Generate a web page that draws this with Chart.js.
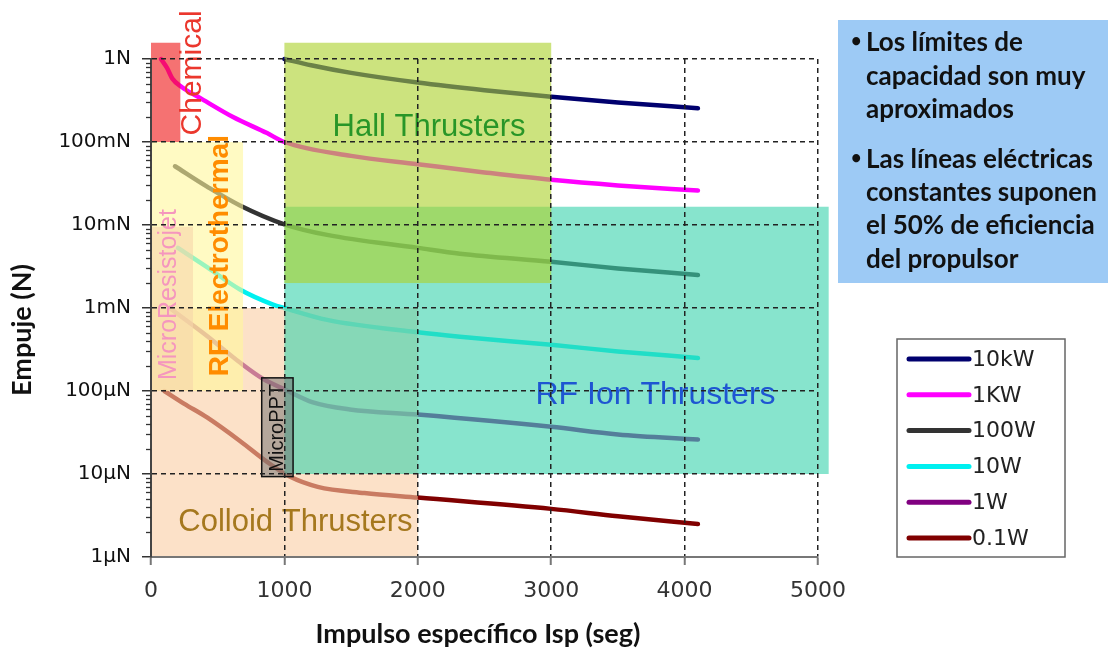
<!DOCTYPE html>
<html lang="es">
<head>
<meta charset="utf-8">
<title>Empuje vs Impulso específico</title>
<script src="https://cdn.jsdelivr.net/npm/chart.js@4.4.1/dist/chart.umd.min.js"></script>
<style>
  html, body { margin: 0; padding: 0; background: #fff; }
  #wrap { width: 1108px; height: 651px; }
</style>
</head>
<body>
<div id="wrap"><canvas id="grafik" width="1108" height="651"></canvas></div>
<script>
// Series de potencia constante (Isp en seg, empuje en N)
const seriesLabels = ['10kW', '1KW', '100W', '10W', '1W', '0.1W'];

const isp10kW    = [1000, 1200, 1500, 2000, 2500, 3000, 3500, 4100];
const empuje10kW = [1.0, 0.84, 0.68, 0.52, 0.42, 0.35, 0.30, 0.255];

const isp1kW    = [75, 120, 160, 230, 367, 615, 870, 1000, 1500, 2000, 2500, 3000, 3500, 4100];
const empuje1kW = [1.0, 0.78, 0.58, 0.46, 0.34, 0.20, 0.128, 0.10, 0.068, 0.054, 0.043, 0.035, 0.030, 0.026];

const isp100W    = [180, 420, 667, 1000, 1320, 2000, 2316, 3000, 3500, 4100];
const empuje100W = [0.051, 0.029, 0.0172, 0.0102, 0.0076, 0.0053, 0.0045, 0.0036, 0.0030, 0.0025];

const isp10W    = [202, 420, 667, 915, 1000, 1320, 2000, 2316, 3000, 3500, 4100];
const empuje10W = [0.0053, 0.0031, 0.00167, 0.0011, 0.001, 0.00072, 0.00051, 0.00045, 0.00036, 0.00030, 0.00025];

const isp1W    = [140, 420, 667, 840, 1000, 1214, 1490, 2000, 3000, 3500, 4100];
const empuje1W = [0.001, 0.00046, 0.00022, 0.00014, 0.000105, 0.000073, 0.00006, 0.000052, 0.000037, 0.00003, 0.000026];

const isp01W    = [100, 250, 420, 667, 870, 1040, 1250, 1600, 2000, 3000, 3500, 4100];
const empuje01W = [0.0001, 0.00007, 0.000048, 0.000025, 0.000014, 0.0000093, 0.000007, 0.0000059, 0.0000052, 0.0000038, 0.0000031, 0.0000025];

const xTickValues = [0, 1000, 2000, 3000, 4000, 5000];
const xTickLabels = ['0', '1000', '2000', '3000', '4000', '5000'];
const yTickValues = [1e-6, 1e-5, 1e-4, 1e-3, 1e-2, 1e-1, 1];
const yTickLabels = ['1µN', '10µN', '100µN', '1mN', '10mN', '100mN', '1N'];

// Zonas de cada tipo de propulsor (rango de Isp y de empuje)
const zonaNombres = ['Colloid Thrusters', 'RF Ion Thrusters', 'Hall Thrusters', 'RF Electrothermal', 'MicroResistojet', 'Chemical', 'MicroPPT'];
const zonaIsp     = [[0, 2000], [1000, 5080], [1000, 3000], [0, 690], [0, 315], [0, 220], [830, 1065]];
const zonaEmpuje  = [[1e-6, 1e-3], [1e-5, 0.0166], [0.002, 1.57], [1e-4, 0.1], [1e-4, 0.0095], [0.1, 1.57], [9.3e-6, 1.44e-4]];
// donde va el texto de cada zona
const zonaTextoIsp    = [1083, 3782, 2084, 517, 135, 315, 945];
const zonaTextoEmpuje = [2.6e-6, 8.8e-5, 0.151, 0.00427, 0.00145, 0.68, 3.6e-5];

const notas = [
    ['Los límites de', 'capacidad son muy', 'aproximados'],
    ['Las líneas eléctricas', 'constantes suponen', 'el 50% de eficiencia', 'del propulsor']
];

// Estilos
const colores = ['#00006e', '#ff00ff', '#333333', '#00f0f0', '#800080', '#800000'];
const zonaRelleno = ['rgb(250,205,163)', 'rgb(55,210,172)', 'rgb(172,210,47)', 'rgb(255,247,155)', 'rgb(247,213,170)', 'rgb(238,20,20)', 'rgb(110,110,110)'];
const zonaAlpha   = [0.6, 0.6, 0.62, 0.6, 0.6, 0.6, 0.5];
const zonaColorTexto = ['rgb(165,120,30)', 'rgb(30,85,210)', 'rgb(40,150,40)', 'rgb(255,140,0)', 'rgb(245,150,190)', 'rgb(235,55,45)', '#111'];
const zonaFuente  = ['31px "Liberation Sans"', '32px "Liberation Sans"', '31px "Liberation Sans"', 'bold 28px "Liberation Sans"', '25px "Liberation Sans"', '30px "Liberation Sans"', '20px "Liberation Sans"'];
const zonaVertical = [false, false, false, true, true, true, true];

function puntos(xs, ys) {
    return xs.map((v, i) => ({ x: v, y: ys[i] }));
}

const datos = [
    puntos(isp10kW, empuje10kW),
    puntos(isp1kW, empuje1kW),
    puntos(isp100W, empuje100W),
    puntos(isp10W, empuje10W),
    puntos(isp1W, empuje1W),
    puntos(isp01W, empuje01W)
];

// Cajas de zonas y textos (encima de las lineas, con transparencia)
const zonasPlugin = {
    id: 'zonas',
    afterDatasetsDraw(chart) {
        const { ctx, scales: { x, y } } = chart;
        ctx.save();
        zonaNombres.forEach((nombre, i) => {
            const x1 = x.getPixelForValue(zonaIsp[i][0]);
            const x2 = x.getPixelForValue(zonaIsp[i][1]);
            const y1 = y.getPixelForValue(zonaEmpuje[i][1]);
            const y2 = y.getPixelForValue(zonaEmpuje[i][0]);
            ctx.globalAlpha = zonaAlpha[i];
            ctx.fillStyle = zonaRelleno[i];
            ctx.fillRect(x1, y1, x2 - x1, y2 - y1);
            if (nombre === 'MicroPPT') {
                ctx.globalAlpha = 1;
                ctx.strokeStyle = '#111';
                ctx.lineWidth = 1.5;
                ctx.strokeRect(x1, y1, x2 - x1, y2 - y1);
            }
        });
        ctx.globalAlpha = 1;
        ctx.textAlign = 'center';
        ctx.textBaseline = 'middle';
        zonaNombres.forEach((nombre, i) => {
            const px = x.getPixelForValue(zonaTextoIsp[i]);
            const py = y.getPixelForValue(zonaTextoEmpuje[i]);
            ctx.save();
            ctx.translate(px, py);
            if (zonaVertical[i]) ctx.rotate(-Math.PI / 2);
            ctx.font = zonaFuente[i];
            ctx.fillStyle = zonaColorTexto[i];
            ctx.fillText(nombre, 0, 0);
            ctx.restore();
        });
        ctx.restore();
    }
};

// Marcas menores del eje log, titulos, leyenda y recuadro de notas
const extrasPlugin = {
    id: 'extras',
    afterDraw(chart) {
        const { ctx, chartArea, scales: { y } } = chart;
        ctx.save();

        // marcas menores
        ctx.strokeStyle = '#333';
        ctx.lineWidth = 1.3;
        for (let d = 0; d < yTickValues.length - 1; d++) {
            for (let k = 2; k <= 9; k++) {
                const py = Math.round(y.getPixelForValue(yTickValues[d] * k)) + 0.5;
                ctx.beginPath();
                ctx.moveTo(chartArea.left - 5, py);
                ctx.lineTo(chartArea.left, py);
                ctx.stroke();
            }
        }

        // titulos de ejes
        ctx.fillStyle = '#111';
        ctx.font = 'bold 27px Lato';
        ctx.textAlign = 'center';
        ctx.textBaseline = 'middle';
        ctx.fillText('Impulso específico Isp (seg)', 478, 634);
        ctx.save();
        ctx.translate(22, 330);
        ctx.rotate(-Math.PI / 2);
        ctx.fillText('Empuje (N)', 0, 0);
        ctx.restore();

        // leyenda
        ctx.fillStyle = '#fff';
        ctx.fillRect(897, 339, 168, 218);
        ctx.strokeStyle = '#666';
        ctx.lineWidth = 1.5;
        ctx.strokeRect(897, 339, 168, 218);
        ctx.font = '22px "DejaVu Sans"';
        ctx.textAlign = 'left';
        chart.data.datasets.forEach((ds, i) => {
            const ly = 359 + i * 35.8;
            ctx.strokeStyle = ds.borderColor;
            ctx.lineWidth = 5;
            ctx.lineCap = 'round';
            ctx.beginPath();
            ctx.moveTo(909, ly);
            ctx.lineTo(969, ly);
            ctx.stroke();
            ctx.fillStyle = '#222';
            ctx.fillText(ds.label, 972, ly + 1);
        });

        // recuadro de notas
        ctx.fillStyle = '#9dcaf5';
        ctx.fillRect(838, 20, 270, 263);
        ctx.fillStyle = '#111';
        ctx.font = 'bold 26px Lato';
        const filas = [[43, 77, 110], [160, 193, 226, 260]];
        notas.forEach((grupo, g) => {
            grupo.forEach((linea, j) => {
                const ty = filas[g][j];
                if (j === 0) {
                    ctx.font = 'bold 18px Lato';
                    ctx.fillText('•', 851, ty - 2);
                    ctx.font = 'bold 26px Lato';
                }
                ctx.fillText(linea, 866, ty);
            });
        });
        ctx.restore();
    }
};

const ctx = document.getElementById('grafik').getContext('2d');
const chartInstance = new Chart(ctx, {
    type: 'line',
    data: {
        datasets: datos.map((d, i) => ({
            label: seriesLabels[i],
            data: d,
            borderColor: colores[i],
            backgroundColor: colores[i],
            borderWidth: 4.5,
            borderCapStyle: 'round',
            pointRadius: 0,
            cubicInterpolationMode: 'monotone',
            clip: false
        }))
    },
    options: {
        responsive: false,
        animation: false,
        devicePixelRatio: 1,
        layout: { padding: { left: 0, right: 290, top: 59, bottom: 0 } },
        plugins: {
            legend: { display: false },
            tooltip: { enabled: false }
        },
        scales: {
            x: {
                type: 'linear',
                min: 0,
                max: 5000,
                afterFit: s => { s.height = 94; },
                afterBuildTicks: s => { s.ticks = xTickValues.map(v => ({ value: v })); },
                ticks: {
                    padding: 13,
                    color: '#333',
                    font: { family: 'DejaVu Sans', size: 22 },
                    callback: (v) => xTickLabels[xTickValues.indexOf(v)],
                    z: 1
                },
                grid: {
                    z: 1,
                    color: c => (c.tick && c.tick.value === 0) ? 'rgba(0,0,0,0)' : '#222',
                    lineWidth: 1.5,
                    tickLength: 8,
                    tickColor: '#777',
                    tickWidth: 2
                },
                border: { display: true, color: '#777', width: 2, dash: [5, 4], z: 1 }
            },
            y: {
                type: 'logarithmic',
                min: 1e-6,
                max: 1,
                afterFit: s => { s.width = 151; },
                afterBuildTicks: s => { s.ticks = yTickValues.map(v => ({ value: v })); },
                ticks: {
                    padding: 11,
                    color: '#111',
                    font: { family: 'DejaVu Sans', size: 20 },
                    callback: (v) => yTickLabels[yTickValues.indexOf(v)],
                    z: 1
                },
                grid: {
                    z: 1,
                    color: c => (c.tick && c.tick.value === 1e-6) ? 'rgba(0,0,0,0)' : '#222',
                    lineWidth: 1.5,
                    tickLength: 9,
                    tickColor: '#333',
                    tickWidth: 1.5
                },
                border: { display: true, color: '#444', width: 2, dash: [5, 4], z: 1 }
            }
        }
    },
    plugins: [zonasPlugin, extrasPlugin]
});
</script>
</body>
</html>
